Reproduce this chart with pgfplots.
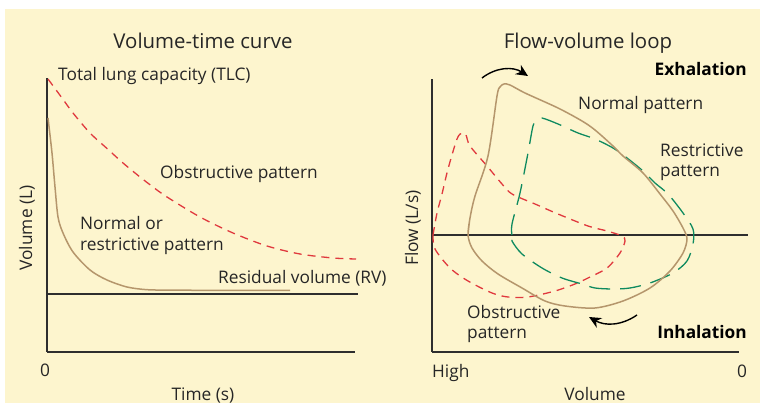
\documentclass[border=0pt]{standalone}
\usepackage{fontspec}
\setmainfont{Open Sans}
\usepackage{pgfplots}
\pgfplotsset{compat=1.18}
\usetikzlibrary{arrows.meta}
\definecolor{bgcream}{HTML}{FDF5CE}
\definecolor{tancol}{HTML}{B5966C}
\definecolor{redcol}{HTML}{E0393E}
\definecolor{greencol}{HTML}{0E8A5F}
\definecolor{axiscol}{HTML}{2E2E2E}
\definecolor{txtcol}{HTML}{262626}
\newcommand\lab{\fontsize{17.3bp}{20bp}\selectfont}
\newcommand\ttl{\fontsize{20.4bp}{24bp}\selectfont}
\pgfplotsset{mystyle/.style={scale only axis, axis lines=left,
  axis line style={-, line width=1.4bp, draw=axiscol},
  xtick=\empty, ytick=\empty, clip=false}}
\begin{document}
\begin{tikzpicture}
\useasboundingbox (0,0) rectangle (760bp,403bp);
\fill[white] (0,0) rectangle (760bp,403bp);
\fill[bgcream] (5bp,0) rectangle (760bp,394bp);

% Left panel: volume-time curve
\begin{axis}[mystyle, at={(47bp,51bp)}, anchor=south west,
  width=308bp, height=274bp, xmin=0, xmax=308, ymin=0, ymax=274]
\addplot[redcol, line width=1.3bp, dash pattern=on 8bp off 6bp, smooth] coordinates {
(1,273) (15,254) (26,239) (43,219) (60,203.5) (76,189) (93,175) (106,165) (120,155)
(153,135) (186,119) (220,106) (253,98) (286,94) (309,93)};
\addplot[tancol, line width=1.5bp, smooth, tension=0.5] coordinates {
(1,234) (5,199) (8,165) (11,135) (16,119) (26,100) (43,82) (60,72) (80,65)
(100,62.3) (123,61.9) (160,61.7) (243,61.7)};
\addplot[axiscol, line width=1.5bp] coordinates {(0,58) (311,58)};
\end{axis}

% Right panel: flow-volume loop
\begin{axis}[mystyle, at={(432bp,51bp)}, anchor=south west,
  width=307bp, height=273bp, xmin=0, xmax=307, ymin=-117, ymax=156]
\addplot[axiscol, line width=1.5bp] coordinates {(0,0) (316,0)};
\addplot[redcol, line width=1.3bp, dash pattern=on 8bp off 6bp, smooth] coordinates {
(1,0) (5,22) (10,41) (16,66) (25,96) (30,102) (34,100) (38,89) (55,69) (70,51) (80,41)
(103,31) (126,21) (156,9) (175,4) (190,-1) (193,-6) (188,-18) (175,-33) (156,-43)
(143,-49) (123,-56) (96,-62) (76,-62) (60,-58) (36,-46) (18,-33) (3,-14) (1,0)};
\addplot[greencol, line width=1.3bp, dash pattern=on 21bp off 10bp, smooth] coordinates {
(80,0) (80,11) (88,42) (96,82) (101,109) (105,115) (110,117) (126,111) (146,102)
(163,96) (181,87) (195,77) (211,64) (223,52) (236,41) (251,22) (261,6) (261,-9)
(255,-26) (241,-38) (218,-48) (198,-53) (181,-54) (163,-53) (150,-49) (130,-43)
(110,-33) (90,-19) (80,-6) (80,0)};
\addplot[tancol, line width=1.5bp, smooth] coordinates {
(36,0) (38,17) (43,39) (56,79) (65,139) (68,148) (72,151) (78,150) (93,142) (126,127)
(150,114) (163,105) (181,89) (191,79) (211,62) (228,41) (241,24) (251,7) (255,-4)
(251,-18) (238,-36) (218,-53) (191,-66) (163,-73) (133,-71) (113,-66) (90,-53)
(66,-39) (50,-26) (40,-13) (36,0) (38,17)};
\end{axis}

% Arrows
\draw[black, line width=1.4bp, -{Stealth[length=12bp,width=11bp]}] (482bp,325bp) to[bend left=35] (528bp,327bp);
\draw[black, line width=1.4bp, -{Stealth[length=12bp,width=11bp]}] (637bp,88bp) to[bend left=32] (589bp,86bp);

% Left texts
\node[txtcol, anchor=base] at (203bp,354bp) {\ttl Volume-time curve};
\node[txtcol, anchor=base west, inner sep=0pt] at (58bp,322bp) {\lab Total lung capacity (TLC)};
\node[txtcol, anchor=base west, inner sep=0pt] at (160bp,224bp) {\lab Obstructive pattern};
\node[txtcol, anchor=base west, inner sep=0pt] at (80bp,173bp) {\lab Normal or};
\node[txtcol, anchor=base west, inner sep=0pt] at (80bp,152bp) {\lab restrictive pattern};
\node[txtcol, anchor=base west, inner sep=0pt] at (218bp,119bp) {\lab Residual volume (RV)};
\node[txtcol, anchor=base, inner sep=0pt] at (45bp,27bp) {\lab 0};
\node[txtcol, anchor=base, inner sep=0pt] at (203bp,3bp) {\lab Time (s)};
\node[txtcol, anchor=base, rotate=90, inner sep=0pt] at (32bp,175bp) {\lab Volume (L)};

% Right texts
\node[txtcol, anchor=base] at (588bp,354bp) {\ttl Flow-volume loop};
\node[black, anchor=base east, inner sep=0pt] at (747bp,327bp) {\lab\bfseries Exhalation};
\node[txtcol, anchor=base west, inner sep=0pt] at (578bp,293bp) {\lab Normal pattern};
\node[txtcol, anchor=base west, inner sep=0pt] at (660bp,246bp) {\lab Restrictive};
\node[txtcol, anchor=base west, inner sep=0pt] at (660bp,226bp) {\lab pattern};
\node[txtcol, anchor=base west, inner sep=0pt] at (467bp,84bp) {\lab Obstructive};
\node[txtcol, anchor=base west, inner sep=0pt] at (467bp,64bp) {\lab pattern};
\node[black, anchor=base east, inner sep=0pt] at (747bp,64bp) {\lab\bfseries Inhalation};
\node[txtcol, anchor=base west, inner sep=0pt] at (432bp,26bp) {\lab High};
\node[txtcol, anchor=base, inner sep=0pt] at (742bp,26bp) {\lab 0};
\node[txtcol, anchor=base, inner sep=0pt] at (595bp,3bp) {\lab Volume};
\node[txtcol, anchor=base, rotate=90, inner sep=0pt] at (418bp,175bp) {\lab Flow (L/s)};
\end{tikzpicture}
\end{document}
